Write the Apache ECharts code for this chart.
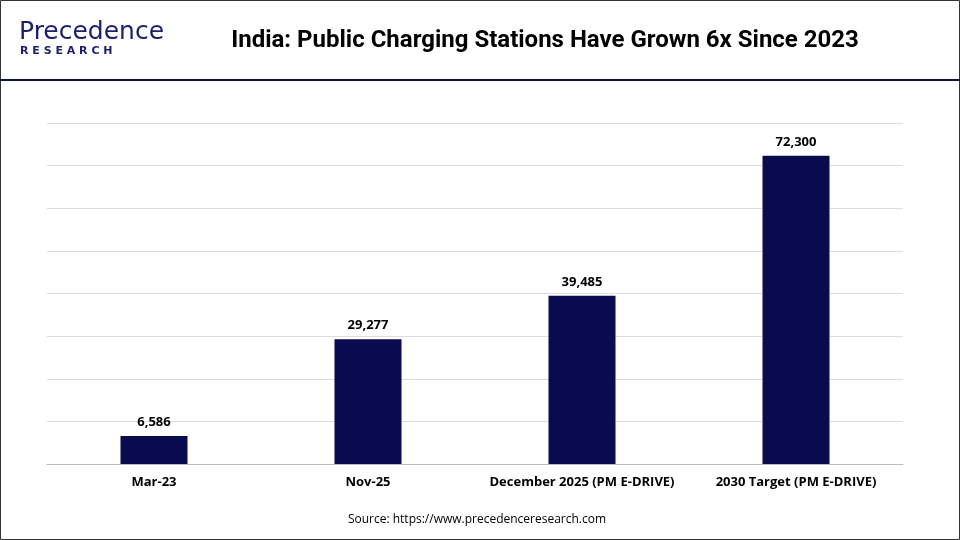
<!DOCTYPE html><html><head><meta charset="utf-8"><script src="https://cdn.jsdelivr.net/npm/echarts@6/dist/echarts.min.js"></script>
<style>body{margin:0}#c{width:960px;height:540px}</style></head><body><div id="c"></div><script>
const categories=['Mar-23','Nov-25','December 2025 (PM E-DRIVE)','2030 Target (PM E-DRIVE)'];
const values=[6586,29277,39485,72300];
const chart=echarts.init(document.getElementById('c'));
chart.setOption({
graphic:[
{type:'rect',shape:{x:0.5,y:0.5,width:959,height:539},style:{fill:'none',stroke:'#333',lineWidth:1}},
{type:'rect',shape:{x:0,y:79,width:960,height:2},style:{fill:'#0d1048'}},
{type:'text',style:{x:19,y:20,text:'Precedence',font:'500 25px "DejaVu Sans"',fill:'#1a1f6e'}},
{type:'text',style:{x:20,y:46,text:'R E S E A R C H',font:'bold 11px "DejaVu Sans"',fill:'#1a1f6e'}},
{type:'text',style:{x:545,y:29,text:'India: Public Charging Stations Have Grown 6x Since 2023',font:'bold 24px Roboto',fill:'#000',align:'center'}},
{type:'text',style:{x:477,y:514,text:'Source: https://www.precedenceresearch.com',font:'12px "Open Sans"',fill:'#000',align:'center'}}
],
grid:{left:47,right:57,top:123,bottom:76},
xAxis:{type:'category',data:categories,axisTick:{show:false},axisLine:{lineStyle:{color:'#bbb'}},axisLabel:{interval:0,color:'#000',fontWeight:'bold',fontSize:13,fontFamily:'Open Sans',margin:12}},
yAxis:{type:'value',min:0,max:80000,interval:10000,axisLabel:{show:false},splitLine:{lineStyle:{color:'#ddd'}}},
series:[{type:'bar',data:values,barWidth:67,itemStyle:{color:'#0a0a4e'},label:{show:true,position:'top',distance:7,color:'#000',fontWeight:'bold',fontSize:13,fontFamily:'Open Sans',formatter:p=>p.value.toLocaleString('en-US')}}]
});
</script></body></html>
